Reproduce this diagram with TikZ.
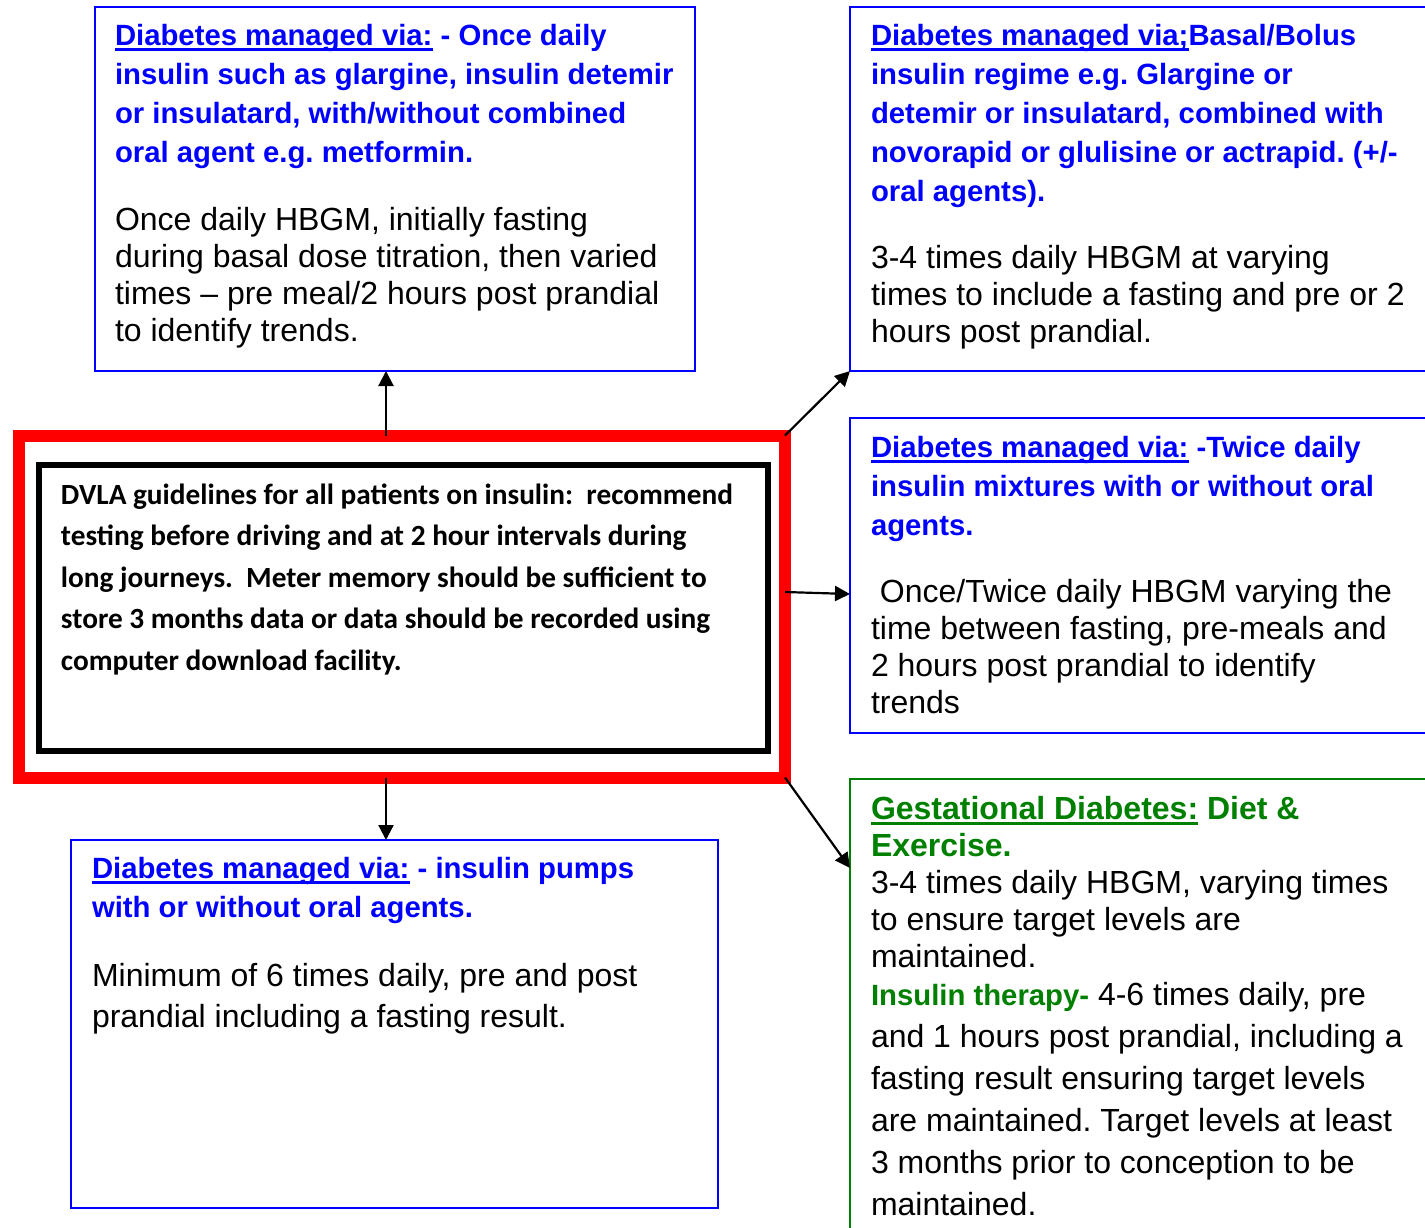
\documentclass[tikz,border=0pt]{standalone}
\usepackage{fontspec}
\setmainfont{Liberation Sans}
\newfontfamily\calfont{Carlito}
\usetikzlibrary{arrows.meta}
\definecolor{boxblue}{RGB}{0,0,255}
\definecolor{boxgreen}{RGB}{0,128,0}
\newcommand\undl[1]{\setbox0\hbox{#1}\rlap{\rule[-3.2pt]{\wd0}{1.6pt}}\box0\relax}
\frenchspacing
\begin{document}
\begin{tikzpicture}[x=0.5pt,y=-0.5pt,
    every node/.style={inner sep=0pt,outer sep=0pt},
    bluebox/.style={draw=boxblue,line width=1pt,anchor=north west},
    greenbox/.style={draw=boxgreen,line width=1pt,anchor=north west},
    head/.style={anchor=base west,align=left,text=boxblue,font=\bfseries\fontsize{14.65}{19.5}\selectfont},
    body/.style={anchor=base west,align=left,font=\fontsize{16}{18.5}\selectfont},
    link/.style={-{Triangle[length=7.5pt,width=7.5pt]},line width=1.1pt}]
  \path[use as bounding box,clip] (0,0) rectangle (1425,1227);
  \node[draw=red,line width=6pt,anchor=north west,minimum width=383pt,minimum height=171pt] (dvla) at (19,435.5) {};
  \node[draw=black,line width=3pt,anchor=north west,minimum width=364.5pt,minimum height=143.25pt] (guide) at (39,464.5) {};
  \node[bluebox,minimum width=300pt,minimum height=182pt] (tl) at (95,7) {};
  \node[bluebox,minimum width=291pt,minimum height=182pt] (tr) at (850,7) {};
  \node[bluebox,minimum width=291pt,minimum height=157.5pt] (mr) at (850,418) {};
  \node[greenbox,minimum width=291pt,minimum height=230.5pt] (gr) at (850,779) {};
  \node[bluebox,minimum width=323.5pt,minimum height=184pt] (bl) at (71,840) {};

  \node[anchor=base west,align=left,font=\calfont\bfseries\fontsize{14.65}{20.75}\selectfont] (guidetxt) at (61,670)
    {DVLA guidelines for all patients on insulin:~ recommend\\testing before driving and at 2 hour intervals during\\long journeys.~ Meter memory should be sufficient to\\store 3 months data or data should be recorded using\\computer download facility.};

  \node[head] (tlhead) at (115,162)
    {\undl{Diabetes managed via:} - Once daily\\insulin such as glargine, insulin detemir\\or insulatard, with/without combined\\oral agent e.g. metformin.};
  \node[body] (tlbody) at (115,341)
    {Once daily HBGM, initially fasting\\during basal dose titration, then varied\\times – pre meal/2 hours post prandial\\to identify trends.};

  \node[head] (trhead) at (871,201)
    {\undl{Diabetes managed via;}Basal/Bolus\\insulin regime e.g. Glargine or\\detemir or insulatard, combined with\\novorapid or glulisine or actrapid. (+/-\\oral agents).};
  \node[body] (trbody) at (871,342)
    {3-4 times daily HBGM at varying\\times to include a fasting and pre or 2\\hours post prandial.};

  \node[head] (mrhead) at (871,535)
    {\undl{Diabetes managed via:} -Twice daily\\insulin mixtures with or without oral\\agents.};
  \node[body,font=\fontsize{16}{18.35}\selectfont] (mrbody) at (871,713)
    {\hspace*{0.278em}Once/Twice daily HBGM varying the\\time between fasting, pre-meals and\\2 hours post prandial to identify\\trends};

  \node[head,text=boxgreen,font=\bfseries\fontsize{16}{18.5}\selectfont] (grhead) at (871,856)
    {\undl{Gestational Diabetes:} Diet \&\\Exercise.};
  \node[body] (grbody) at (871,967)
    {3-4 times daily HBGM, varying times\\to ensure target levels are\\maintained.};
  \node[body,font=\fontsize{16}{21}\selectfont] (grinsulin) at (871,1215)
    {{\color{boxgreen}\bfseries\fontsize{14.65}{21}\selectfont Insulin therapy-} 4-6 times daily, pre\\and 1 hours post prandial, including a\\fasting result ensuring target levels\\are maintained. Target levels at least\\3 months prior to conception to be\\maintained.};

  \node[head] (blhead) at (92,917)
    {\undl{Diabetes managed via:} - insulin pumps\\with or without oral agents.};
  \node[body,font=\fontsize{16}{20.5}\selectfont] (blbody) at (92,1027)
    {Minimum of 6 times daily, pre and post\\prandial including a fasting result.};

  \draw[link] ([shift={(-16,0)}]dvla.north) -- ([shift={(-16,0)}]dvla.north |- tl.south);
  \draw[link] ([shift={(-16,0)}]dvla.south) -- ([shift={(-16,0)}]dvla.south |- bl.north);
  \draw[link] (dvla.north east) -- (tr.south west);
  \draw[link] ([shift={(0,-14.5)}]dvla.east) -- ([shift={(0,18.5)}]mr.west);
  \draw[link] (dvla.south east) -- ([shift={(0,89)}]gr.north west);
\end{tikzpicture}
\end{document}
